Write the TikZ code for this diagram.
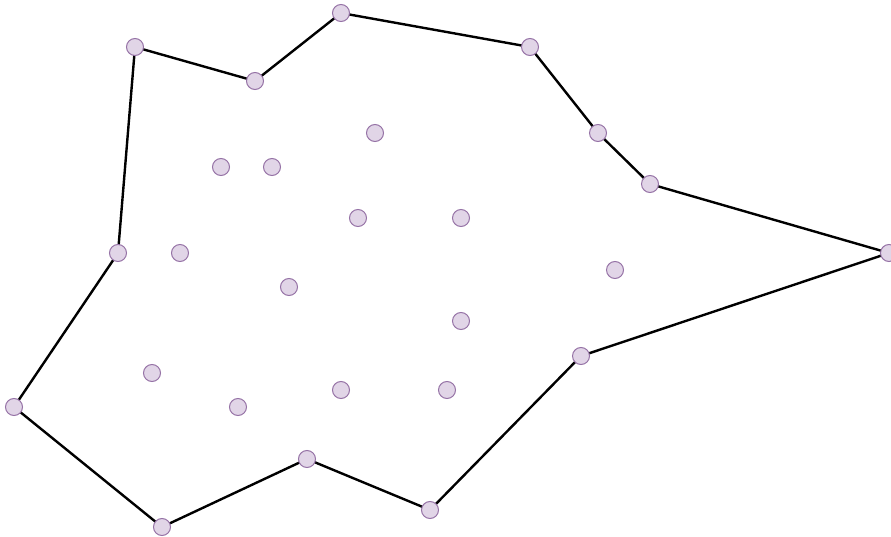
\documentclass[tikz,border=0pt]{standalone}
\definecolor{ptfill}{HTML}{E1D5E7}
\definecolor{ptdraw}{HTML}{9673A6}
\tikzset{pt/.style={circle,fill=ptfill,draw=ptdraw,line width=1pt,minimum size=17pt,inner sep=0pt},
hull/.style={line width=2.4pt,black}}
\begin{document}
\begin{tikzpicture}[x=1pt,y=-1pt]
\useasboundingbox (0,0) rectangle (891,537);
\foreach \n/\x/\y in {a/341/13,b/530/47,c/598/133,d/650/184,e/889/253,f/581/356,g/430/510,h/307/459,i/162/527,j/14/407,k/118/253,l/135/47,m/255/81}
  \coordinate (\n) at (\x,\y);
\draw[hull] (a)--(b)--(c)--(d)--(e)--(f)--(g)--(h)--(i)--(j)--(k)--(l)--(m)--cycle;
\foreach \n in {a,b,c,d,e,f,g,h,i,j,k,l,m}
  \node[pt] (p\n) at (\n) {};
\foreach \n/\x/\y in {q1/375/133,q2/221/167,q3/272/167,q4/358/218,q5/461/218,q6/180/253,q7/615/270,q8/289/287,q9/461/321,q10/152/373,q11/238/407,q12/341/390,q13/447/390}
  \node[pt] (\n) at (\x,\y) {};
\end{tikzpicture}
\end{document}
